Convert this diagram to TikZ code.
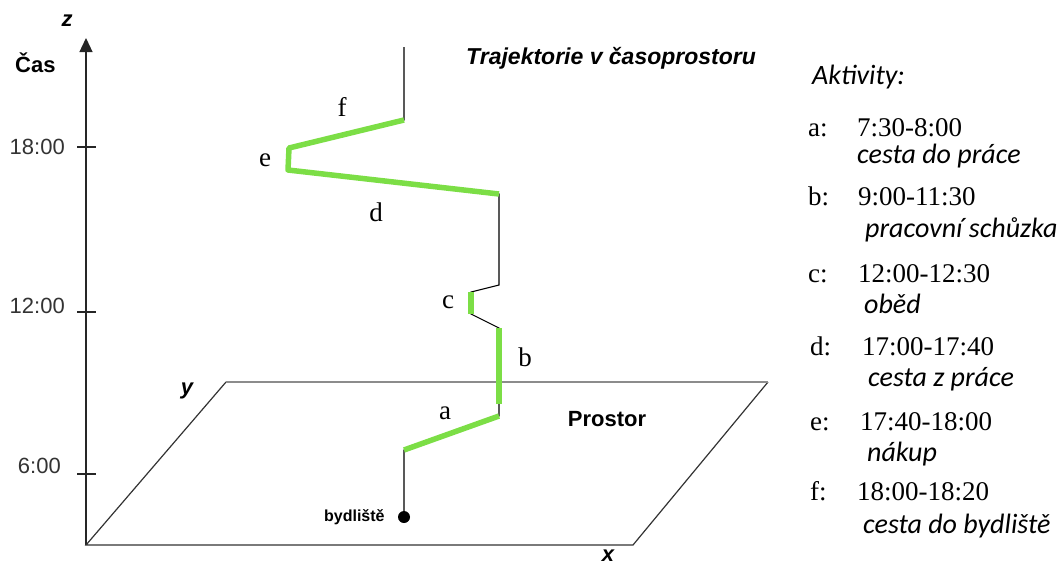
\documentclass[tikz,border=0pt]{standalone}
\usepackage{fontspec}
\setmainfont{Liberation Sans}
\newfontfamily\timesfont{Liberation Serif}
\newfontfamily\calibfont{Carlito}
\usepackage{xcolor}
\usetikzlibrary{arrows.meta,positioning}
\definecolor{actgreen}{RGB}{124,222,70}

\begin{document}
\begin{tikzpicture}[
    x=1pt, y=-1pt,
    axis/.style={line width=1.3pt, black!85},
    edge/.style={line width=1.2pt, black!80},
    faredge/.style={line width=1.6pt, black!45},
    trace/.style={line width=1.1pt, black},
    act/.style={line width=5.5pt, draw=actgreen, line join=round},
    lbl/.style={inner sep=0pt, font=\fontsize{22}{26}\selectfont},
    hour/.style={lbl, anchor=east, black!80},
    axlab/.style={lbl, font=\bfseries\itshape\fontsize{22}{26}\selectfont},
    actlab/.style={inner sep=0pt, font=\timesfont\fontsize{27}{31}\selectfont},
    keyid/.style={actlab, anchor=base west},
    keytxt/.style={inner sep=0pt, anchor=base west, font=\calibfont\itshape\fontsize{28}{33}\selectfont},
    homedot/.style={circle, fill=black, inner sep=0pt, minimum size=12pt}
  ]
    \useasboundingbox (0,0) rectangle (1061,566);

    % time axis
    \coordinate (o) at (86,545);
    \coordinate (ztop) at (86,38);
    \draw[axis, -{Triangle[length=14pt,width=13pt]}] (o) -- (ztop);
    \node[axlab] (zlab) at (67,21) {z};
    \node[lbl, font=\bfseries\fontsize{22}{26}\selectfont, anchor=west] (cas) at (15,63) {Čas};
    \draw[axis] (77,147) -- (96,147);
    \draw[axis] (77,312) -- (96,312);
    \draw[axis] (77,474) -- (96,474);
    \node[hour] (h18) at (65,147) {18:00};
    \node[hour] (h12) at (65,306) {12:00};
    \node[hour] (h6) at (61,466) {6:00};

    % plane
    \coordinate (p1) at (86,545);
    \coordinate (p2) at (633,545);
    \coordinate (p3) at (768,382);
    \coordinate (p4) at (226,382);
    \draw[edge] (p4) -- (p1) -- (p2) -- (p3);
    \draw[faredge] (p3) -- (p4);
    \node[axlab] (ylab) at (187,391) {y};
    \node[axlab] (xlab) at (608,556) {x};
    \node[lbl, font=\bfseries\fontsize{22}{26}\selectfont] (prostor) at (607,419) {Prostor};
    \node[lbl, font=\bfseries\itshape\fontsize{23}{27}\selectfont, anchor=west] (title) at (466,58) {Trajektorie v časoprostoru};

    % trajectory
    \node[homedot] (home) at (404,517) {};
    \node[lbl, font=\bfseries\fontsize{16}{18}\selectfont, left=13pt of home] (homelab) {bydliště};
    \coordinate (t1) at (404,450);
    \coordinate (t2) at (499,416);
    \coordinate (t3) at (499,404);
    \coordinate (t4) at (499,328);
    \coordinate (t5) at (471,314);
    \coordinate (t6) at (471,292);
    \coordinate (t7) at (499,285);
    \coordinate (t8) at (499,194);
    \coordinate (t9) at (288,170);
    \coordinate (t10) at (289,148);
    \coordinate (t11) at (404,120);
    \coordinate (t12) at (404,47);
    \draw[trace] (home) -- (t1) -- (t2) -- (t3) -- (t4) -- (t5) -- (t6) -- (t7) -- (t8)
        -- (t9) -- (t10) -- (t11) -- (t12);
    \draw[act] (t1) -- (t2);
    \draw[act] (t3) -- (t4);
    \draw[act] (t5) -- (t6);
    \draw[act] (t8) -- (t9) -- (t10) -- (t11);
    \node[actlab] (la) at (445,413) {a};
    \node[actlab] (lb) at (525,357) {b};
    \node[actlab] (lc) at (448,302) {c};
    \node[actlab] (ld) at (376,212) {d};
    \node[actlab] (le) at (265,160) {e};
    \node[actlab] (lf) at (342,107) {f};

    % legend
    \node[keytxt] (aktiv) at (812,84) {Aktivity:};
    \node[keyid] (ka) at (808,136) {a:};
    \node[keyid] (ta) at (857,136) {7:30-8:00};
    \node[keytxt] (da) at (857,163) {cesta do práce};
    \node[keyid] (kb) at (808,205) {b:};
    \node[keyid] (tb) at (858,205) {9:00-11:30};
    \node[keytxt] (db) at (865,237) {pracovní schůzka};
    \node[keyid] (kc) at (808,282) {c:};
    \node[keyid] (tc) at (858,282) {12:00-12:30};
    \node[keytxt] (dc) at (864,313) {oběd};
    \node[keyid] (kd) at (810,355) {d:};
    \node[keyid] (td) at (862,355) {17:00-17:40};
    \node[keytxt] (dd) at (868,386) {cesta z práce};
    \node[keyid] (ke) at (810,430) {e:};
    \node[keyid] (te) at (860,430) {17:40-18:00};
    \node[keytxt] (de) at (867,461) {nákup};
    \node[keyid] (kf) at (810,500) {f:};
    \node[keyid] (tf) at (857,500) {18:00-18:20};
    \node[keytxt] (df) at (863,533) {cesta do bydliště};
\end{tikzpicture}
\end{document}
